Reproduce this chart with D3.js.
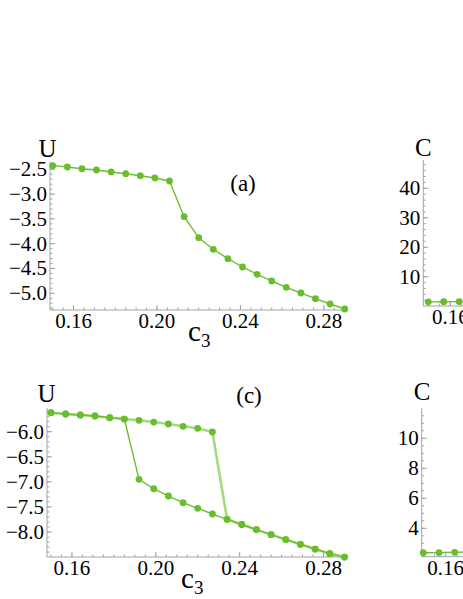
<!DOCTYPE html>
<html>
<head>
<meta charset="utf-8">
<script src="https://cdn.jsdelivr.net/npm/d3@7"></script>
<style>
  html, body { margin: 0; padding: 0; background: #fff; overflow: hidden; }
  svg { display: block; }
  text { font-family: "Liberation Serif", "Times New Roman", serif; fill: #000; }
</style>
</head>
<body>
<svg id="chart" width="463" height="599"></svg>
<script>
// ---------------- data ----------------
const c3 = [0.150, 0.157, 0.164, 0.171, 0.178, 0.185, 0.192, 0.199, 0.206, 0.213, 0.220,
            0.227, 0.234, 0.241, 0.248, 0.255, 0.262, 0.269, 0.276, 0.283, 0.290];

// panel (a): U vs c3
const U_a = [-2.427, -2.454, -2.488, -2.514, -2.554, -2.589, -2.629, -2.675, -2.736, -3.456, -3.879,
             -4.113, -4.302, -4.470, -4.617, -4.752, -4.879, -4.994, -5.109, -5.216, -5.317];

// panel (c): hysteresis, upper branch (c3 index 0..11), lower branch (c3 index 6..20)
const U_c_upper = [-5.621, -5.647, -5.667, -5.687, -5.721, -5.747, -5.773, -5.807, -5.846, -5.892, -5.932, -6.006];
const U_c_lower = [-6.949, -7.137, -7.282, -7.416, -7.527, -7.641, -7.747, -7.850, -7.952, -8.052,
                   -8.150, -8.245, -8.339, -8.431, -8.500];
const lowerStart = 6;

// panels (b), (d): C vs c3 (only the visible beginning)
const C_b = [1.46, 1.50, 1.55, 1.60];
const C_d = [2.37, 2.38, 2.40, 2.42];

// tick labels
const xTicks = [0.16, 0.20, 0.24, 0.28];
const yTicks_a = [-2.5, -3.0, -3.5, -4.0, -4.5, -5.0];
const yTicks_c = [-6.0, -6.5, -7.0, -7.5, -8.0];
const yTicks_b = [10, 20, 30, 40];
const yTicks_d = [4, 6, 8, 10];

// ---------------- drawing ----------------
const svg = d3.select("#chart");
const AXIS = "#a3a3a3";
const DOT = "#69bd2c";
const LINE_DARK = "#6cbf33";
const LINE_LIGHT = "#a4db7f";
const fmtNeg = d => (d < 0 ? "\u2212" : "") + Math.abs(d).toFixed(1);

function panel(cfg) {
  const g = svg.append("g");
  const x = d3.scaleLinear().domain(cfg.xd).range(cfg.xr);
  const y = d3.scaleLinear().domain(cfg.yd).range(cfg.yr);
  const x0 = cfg.xr[0], y0 = cfg.yr[0];

  // x axis
  const xa = g.append("g");
  xa.append("line").attr("x1", cfg.xr[0]).attr("x2", cfg.xr[1]).attr("y1", y0).attr("y2", y0)
    .attr("stroke", AXIS).attr("stroke-width", 1);
  const xmin = d3.range(Math.ceil(cfg.xd[0] / 0.005) * 0.005, cfg.xd[1], 0.005);
  xa.selectAll("line.mn").data(xmin).enter().append("line")
    .attr("x1", d => x(d)).attr("x2", d => x(d)).attr("y1", y0).attr("y2", y0 - 2.5)
    .attr("stroke", AXIS);
  xa.selectAll("line.mj").data(xTicks).enter().append("line")
    .attr("x1", d => x(d)).attr("x2", d => x(d)).attr("y1", y0).attr("y2", y0 - 5)
    .attr("stroke", AXIS);
  xa.selectAll("text").data(xTicks).enter().append("text")
    .attr("x", d => x(d)).attr("y", y0 + 18)
    .attr("text-anchor", "middle").attr("font-size", 21)
    .text(d => d.toFixed(2));

  // y axis
  const ya = g.append("g");
  ya.append("line").attr("x1", x0).attr("x2", x0).attr("y1", cfg.yr[0]).attr("y2", cfg.yr[1])
    .attr("stroke", AXIS);
  const ymin = d3.range(Math.ceil(cfg.yd[0] / cfg.ym - 1e-9) * cfg.ym, cfg.yd[1], cfg.ym);
  ya.selectAll("line.mn").data(ymin).enter().append("line")
    .attr("x1", x0).attr("x2", x0 + 2.5).attr("y1", d => y(d)).attr("y2", d => y(d))
    .attr("stroke", AXIS);
  ya.selectAll("line.mj").data(cfg.yt).enter().append("line")
    .attr("x1", x0).attr("x2", x0 + 5).attr("y1", d => y(d)).attr("y2", d => y(d))
    .attr("stroke", AXIS);
  ya.selectAll("text").data(cfg.yt).enter().append("text")
    .attr("x", x0 - 3).attr("y", d => y(d) + 7)
    .attr("text-anchor", "end").attr("font-size", 21)
    .text(cfg.fmt);

  // axis name
  g.append("text").attr("x", cfg.yname[0]).attr("y", cfg.yname[1])
    .attr("text-anchor", "middle").attr("font-size", 25).text(cfg.yname[2]);
  if (cfg.xname) {
    const t = g.append("text").attr("x", cfg.xname[0]).attr("y", cfg.xname[1]).attr("font-size", 29);
    t.append("tspan").text("c");
    t.append("tspan").attr("font-size", 19).attr("dy", 6).text("3");
  }
  if (cfg.tag) {
    g.append("text").attr("x", cfg.tag[0]).attr("y", cfg.tag[1])
      .attr("text-anchor", "middle").attr("font-size", 23).text(cfg.tag[2]);
  }

  const line = d3.line().x(d => x(d[0])).y(d => y(d[1]));
  cfg.series.forEach(s => {
    g.append("path").datum(s.pts).attr("d", line).attr("fill", "none")
      .attr("stroke", s.color).attr("stroke-width", s.w).attr("stroke-linejoin", "round");
  });
  const dots = cfg.series.flatMap(s => s.pts);
  g.selectAll("circle").data(dots).enter().append("circle")
    .attr("cx", d => x(d[0])).attr("cy", d => y(d[1])).attr("r", 3.4).attr("fill", DOT);
}

// panel (a)
panel({
  xd: [0.1487, 0.2911], xr: [50, 347],
  yd: [-5.337, -2.347], yr: [310, 161.7], ym: 0.1,
  yt: yTicks_a, fmt: fmtNeg,
  yname: [47.5, 157, "U"], xname: [188, 341], tag: [243, 191, "(a)"],
  series: [{ pts: c3.map((c, i) => [c, U_a[i]]), color: LINE_DARK, w: 1.4 }]
});

// panel (c)
const upperPts = U_c_upper.map((v, i) => [c3[i], v]);
const lowerPts = U_c_lower.map((v, i) => [c3[i + lowerStart], v]);
const forward = upperPts.concat(lowerPts.filter(p => p[0] > upperPts[upperPts.length - 1][0] + 1e-9));
const backward = lowerPts.slice().reverse().concat(upperPts.slice(0, lowerStart).reverse());
panel({
  xd: [0.1481, 0.2912], xr: [47, 347],
  yd: [-8.498, -5.527], yr: [557, 408], ym: 0.1,
  yt: yTicks_c, fmt: fmtNeg,
  yname: [46.5, 402, "U"], xname: [181, 588], tag: [249, 403, "(c)"],
  series: [
    { pts: forward, color: LINE_LIGHT, w: 2.6 },
    { pts: backward, color: LINE_DARK, w: 1.4 }
  ]
});

// panel (b)
panel({
  xd: [0.14773, 0.2841], xr: [423.3, 723.3],
  yd: [0.06, 49.6], yr: [306, 160], ym: 2,
  yt: yTicks_b, fmt: d => d,
  yname: [423.3, 156, "C"],
  series: [{ pts: C_b.map((v, i) => [c3[i], v]), color: LINE_DARK, w: 1.4 }]
});

// panel (d)
panel({
  xd: [0.14929, 0.2830], xr: [421.7, 721.7],
  yd: [2.107, 12], yr: [556.7, 408.3], ym: 0.5,
  yt: yTicks_d, fmt: d => d,
  yname: [422, 400, "C"],
  series: [{ pts: C_d.map((v, i) => [c3[i], v]), color: LINE_DARK, w: 1.4 }]
});
</script>
</body>
</html>
